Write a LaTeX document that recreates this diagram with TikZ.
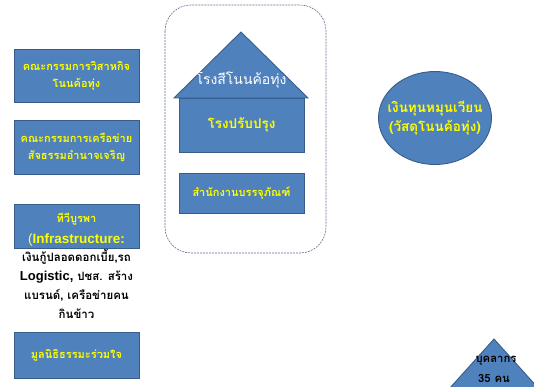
\documentclass[tikz,border=0pt]{standalone}
\usepackage{fontspec}
\setmainfont{Liberation Sans}
\newfontfamily\thai[Script=Thai]{Loma}
\usetikzlibrary{shapes.geometric}
\definecolor{boxblue}{HTML}{4F81BD}
\definecolor{boxedge}{HTML}{385D8A}
\definecolor{dashedge}{HTML}{5B6F8F}
\definecolor{ytext}{HTML}{FFFF00}
\tikzset{
  bluebox/.style={draw=boxedge, fill=boxblue, line width=0.9pt, minimum width=125pt, inner sep=1pt, align=center, text=ytext, font=\thai\bfseries\fontsize{11}{17}\selectfont},
  blacktext/.style={align=center, text=black, font=\thai\bfseries\fontsize{11.5}{19.2}\selectfont, inner sep=0pt},
}
\begin{document}
\begin{tikzpicture}[x=1pt,y=-1pt]
\useasboundingbox (0,0) rectangle (534,387);
% left boxes
\node[bluebox, minimum height=53pt] (b1) at (76.5,76) {คณะกรรมการวิสาหกิจ\\โนนค้อทุ่ง};
\node[bluebox, minimum height=54pt] (b2) at (76.5,147) {คณะกรรมการเครือข่าย\\สัจธรรมอำนาจเจริญ};
\node[bluebox, minimum height=44pt, anchor=north] (b3) at (76.5,204) {};
\node[text=ytext, inner sep=0pt, font=\thai\bfseries\fontsize{11}{12}\selectfont] (b3a) at (76.5,219) {ทีวีบูรพา};
\node[text=ytext, inner sep=0pt, font=\fontsize{13.5}{14}\selectfont] (b3b) at (76.5,240) {{\color{ytext!60!white}(}\textbf{Infrastructure:}};
\node[blacktext, anchor=north] (b3t) at (76.5,249) {เงินกู้ปลอดดอกเบี้ย,รถ\\{\fontspec{Liberation Sans}\fontsize{13}{14}\selectfont\bfseries Logistic,} ปชส. สร้าง\\แบรนด์, เครือข่ายคน\\กินข้าว};
\node[bluebox, minimum height=46pt] (b4) at (76.5,355) {มูลนิธิธรรมะร่วมใจ};
% centre group
\draw[dashedge, line width=0.6pt, dash pattern=on 2pt off 1pt, rounded corners=26pt] (165,5) rectangle (326,253);
\coordinate (hapex) at (241,32);
\coordinate (hl) at (174,98);
\coordinate (hr) at (308,98);
\draw[boxedge, fill=boxblue, line width=0.9pt] (hl) -- (hapex) -- (hr) -- cycle;
\node[text=white, font=\thai\fontsize{14}{16}\selectfont, inner sep=0pt] (roof) at (241,80) {โรงสีโนนค้อทุ่ง};
\node[bluebox, minimum width=125pt, minimum height=54pt, font=\thai\bfseries\fontsize{13.5}{15}\selectfont] (mill) at (241.5,125) {โรงปรับปรุง};
\node[bluebox, minimum width=125pt, minimum height=40pt] (pack) at (241.5,193) {สำนักงานบรรจุภัณฑ์};
% ellipse
\node[ellipse, draw=boxedge, fill=boxblue, line width=0.9pt, minimum width=113pt, minimum height=93pt, inner sep=0pt] (fund) at (435,118) {};
\node[align=center, inner sep=0pt, text=ytext, font=\thai\bfseries\fontsize{13.5}{19}\selectfont] (fundtext) at (fund.center) {เงินทุนหมุนเวียน\\(วัสดุโนนค้อทุ่ง)};
% bottom-right triangle
\begin{scope}
\clip (0,0) rectangle (534,387);
\coordinate (tapex) at (494,339);
\coordinate (tl) at (440,399);
\coordinate (tr) at (548,399);
\draw[boxedge, fill=boxblue, line width=0.9pt] (tl) -- (tapex) -- (tr) -- cycle;
\end{scope}
\node[blacktext, font=\thai\bfseries\fontsize{11.3}{12}\selectfont] (staff1) at (496,361) {บุคลากร};
\node[blacktext, font=\thai\bfseries\fontsize{11.3}{12}\selectfont] (staff2) at (494,378.5) {35 คน};
\end{tikzpicture}
\end{document}
